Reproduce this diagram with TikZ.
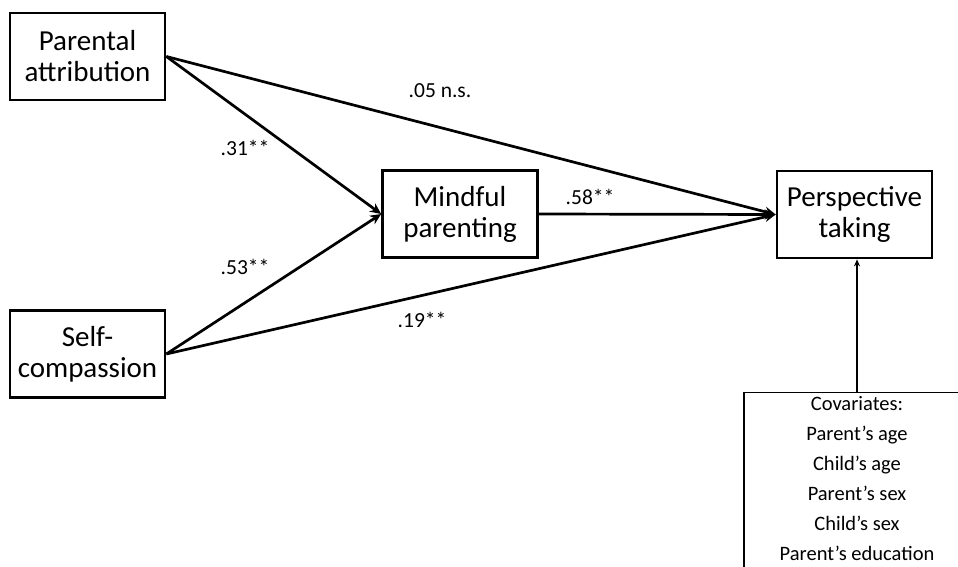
\documentclass[tikz,border=0pt]{standalone}
\usepackage{fontspec}
\setmainfont{Carlito}
\usetikzlibrary{arrows.meta, positioning}

\begin{document}
\begin{tikzpicture}[x=1pt, y=-1pt,
                var/.style={draw, line width=2.7pt, minimum width=155pt, minimum height=87pt, align=center, inner sep=0pt, font=\fontsize{29}{31}\selectfont},
                covbox/.style={draw, line width=1.2pt, anchor=north, minimum width=226pt, align=center, inner xsep=0pt, inner ysep=4pt, text depth=30pt, font=\fontsize{20.5}{30}\selectfont},
                effect/.style={-{Stealth[length=11pt, width=10pt]}, line width=2.7pt},
                covarrow/.style={-{Stealth[length=7pt, width=6pt]}, line width=1.3pt},
                coef/.style={font=\fontsize{21.5}{24}\selectfont}
            ]
            \useasboundingbox (0,0) rectangle (958,567);

            % Variables
            \node[var] (pa) at (87.5,56.5) {Parental\\attribution};
            \node[var] (sc) at (87.5,354) {Self-\\compassion};
            \node[var] (mp) at (460,214) {Mindful\\parenting};
            \node[var] (pt) at (854.5,214.5) {Perspective\\taking};

            % Covariates
            \node[covbox] (cov) at (857,392) {Covariates:\\Parent’s age\\Child’s age\\Parent’s sex\\Child’s sex\\Parent’s education};

            % Paths
            \draw[effect] (pa.east) -- (mp.west);
            \draw[effect] (sc.east) -- (mp.west);
            \draw[effect] (pa.east) -- (pt.west);
            \draw[effect] (sc.east) -- (pt.west);
            \draw[effect] (mp.east) -- (pt.west);
            \draw[covarrow] (cov.north) -- (cov.north |- pt.south);

            % Coefficients
            \node[coef] (c1) at (440,91) {.05 n.s.};
            \node[coef] (c2) at (245,148) {.31**};
            \node[coef] (c3) at (245,267) {.53**};
            \node[coef] (c4) at (590,197) {.58**};
            \node[coef] (c5) at (422,320) {.19**};
\end{tikzpicture}
\end{document}
